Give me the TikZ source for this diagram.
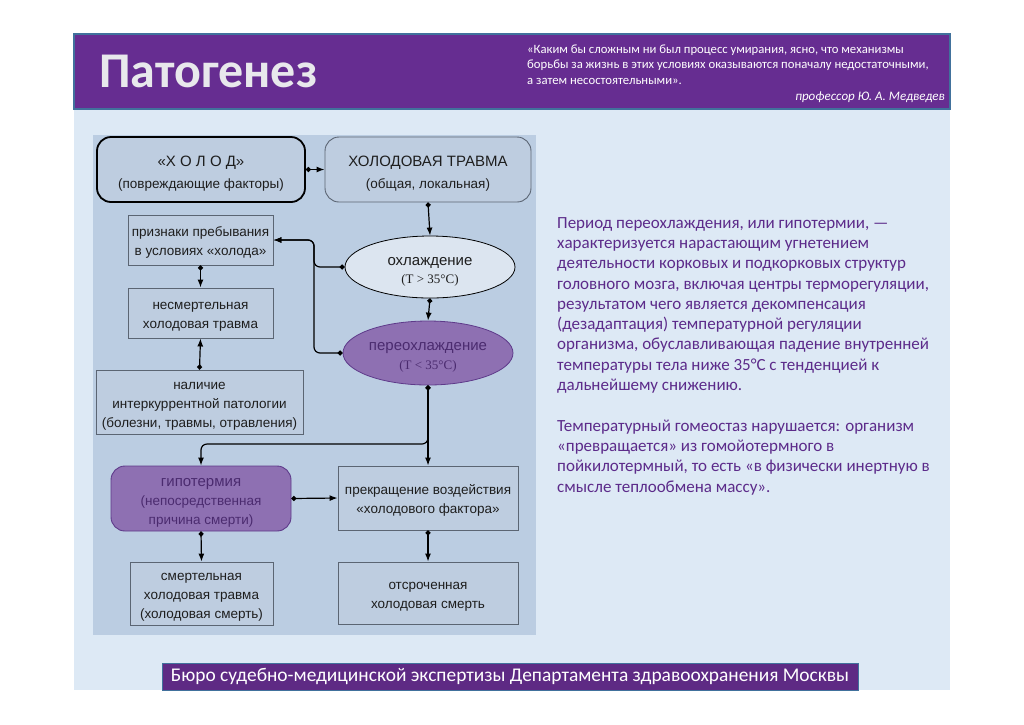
\documentclass[tikz,border=0pt]{standalone}
\usepackage{fontspec}
\setmainfont{Liberation Sans}
\newfontfamily\calfont{Carlito}
\newfontfamily\tmsfont{Liberation Serif}
\usetikzlibrary{arrows.meta,shapes.geometric,calc}
\definecolor{slidebg}{HTML}{DDE9F5}
\definecolor{hdr}{HTML}{662D91}
\definecolor{edgec}{HTML}{41719C}
\definecolor{chartbg}{HTML}{BBCDE2}
\definecolor{boxfill}{HTML}{BECDE0}
\definecolor{boxline}{HTML}{5B6573}
\definecolor{ellfill}{HTML}{DCE5F0}
\definecolor{purfill}{HTML}{8E70B2}
\definecolor{purline}{HTML}{5E3A8A}
\definecolor{purtxt}{HTML}{4B2B6F}
\definecolor{txt}{HTML}{1E1E1E}
\definecolor{rtxt}{HTML}{5C2B8A}
\definecolor{ftr}{HTML}{5E2A84}
\definecolor{titlec}{HTML}{E8E8EC}
\newcommand\tstr{\rule{0pt}{15pt}}
\begin{document}
\begin{tikzpicture}[x=1pt,y=-1pt,
  box/.style={draw=boxline, fill=boxfill, line width=0.9pt, align=center,
    font=\fontsize{13.5}{19}\selectfont, text=txt, inner sep=0pt},
  rbox/.style={box, rounded corners=14pt},
  ell/.style={ellipse, draw=black, line width=0.8pt, fill=ellfill, align=center,
    font=\fontsize{15}{19}\selectfont, text=txt, inner sep=0pt},
  conn/.style={draw=black, line width=1.2pt,
    arrows={Circle[length=5pt]-Latex[length=8pt,width=6pt]}},
  rconn/.style={conn, rounded corners=6pt}
]
\useasboundingbox (0,0) rectangle (1024,724);
\fill[white] (0,0) rectangle (1024,724);
\fill[slidebg] (74,34) rectangle (950,690);
\filldraw[fill=hdr, draw=edgec, line width=1.2pt] (74,34) rectangle (950,109);
\fill[chartbg] (93,135) rectangle (536,635);

% header texts
\node[anchor=west, inner sep=0pt, font=\calfont\bfseries\fontsize{50}{50}\selectfont, text=titlec] (title) at (99,71) {Патогенез};
\node[anchor=north west, align=left, inner sep=0pt, font=\calfont\fontsize{12.7}{15.5}\selectfont, text=white] (quote) at (527,44.5)
 {«Каким бы сложным ни был процесс умирания, ясно, что механизмы\\
  борьбы за жизнь в этих условиях оказываются поначалу недостаточными,\\
  а затем несостоятельными».};
\node[anchor=east, inner sep=0pt, font=\calfont\itshape\fontsize{13}{14}\selectfont, text=white] (sig) at (945,97) {профессор Ю. А. Медведев};

% flowchart nodes
\node[rbox, draw=black, line width=1.8pt, minimum width=208pt, minimum height=65pt] (holod) at (201,169.5)
 {\rule{0pt}{18pt}{\fontsize{15}{19}\selectfont «Х О Л О Д»}\\[3pt](повреждающие факторы)};
\node[rbox, minimum width=206pt, minimum height=65pt] (trauma) at (428,169.5)
 {\rule{0pt}{18pt}{\fontsize{15}{19}\selectfont ХОЛОДОВАЯ ТРАВМА}\\[3pt](общая, локальная)};
\node[box, minimum width=145pt, minimum height=50pt] (priznaki) at (200.5,240)
 {\tstr признаки пребывания\\в условиях «холода»};
\node[ell, minimum width=170pt, minimum height=62pt] (ohl) at (430,267)
 {\rule{0pt}{18pt}охлаждение\\[-1pt]{\tmsfont\fontsize{13}{15}\selectfont (T > 35°C)}};
\node[box, minimum width=145pt, minimum height=50pt] (nesm) at (200.5,313)
 {\tstr несмертельная\\холодовая травма};
\node[box, minimum width=207pt, minimum height=64pt] (nalichie) at (199.5,402)
 {\tstr наличие\\интеркуррентной патологии\\(болезни, травмы, отравления)};
\node[ell, draw=purline, fill=purfill, text=purtxt, minimum width=170pt, minimum height=64pt] (pereohl) at (428,353)
 {\rule{0pt}{17pt}переохлаждение\\[0pt]{\tmsfont\fontsize{13}{15}\selectfont (T < 35°C)}};
\node[rbox, draw=purline, fill=purfill, text=purtxt, minimum width=180pt, minimum height=65pt] (gipo) at (201,498.5)
 {\rule{0pt}{17pt}{\fontsize{15}{19}\selectfont гипотермия}\\(непосредственная\\причина смерти)};
\node[box, minimum width=180pt, minimum height=64pt] (prekr) at (428,498)
 {\tstr прекращение воздействия\\«холодового фактора»};
\node[box, minimum width=143pt, minimum height=63pt] (smert) at (201.5,593.5)
 {\tstr смертельная\\холодовая травма\\(холодовая смерть)};
\node[box, minimum width=180pt, minimum height=62pt] (otsr) at (428,593)
 {\tstr отсроченная\\холодовая смерть};

\coordinate (vx) at (314,0);
\coordinate (br) at (201,444);

% connectors
\draw[conn] (holod.east) -- (trauma.west);
\draw[conn] (trauma.south) -- (ohl.north);
\draw[conn] (ohl.south) -- (pereohl.north);
\draw[rconn] (ohl.west) -| (vx |- priznaki.east) -- (priznaki.east);
\draw[rconn] (pereohl.west) -| (vx |- priznaki.east) -- (priznaki.east);
\draw[conn] (priznaki.south) -- (nesm.north);
\draw[conn] (nalichie.north) -- (nesm.south);
\draw[conn] (pereohl.south) -- (prekr.north);
\draw[rconn] (pereohl.south) |- (br) -- (gipo.north);
\draw[conn] (gipo.east) -- (prekr.west);
\draw[conn] (gipo.south) -- (smert.north);
\draw[conn] (prekr.south) -- (otsr.north);

% right text
\node[anchor=north west, align=left, inner sep=0pt, font=\calfont\fontsize{17}{20.3}\selectfont, text=rtxt] (rtext) at (557,217)
 {Период переохлаждения, или гипотермии, —\\
  характеризуется нарастающим угнетением\\
  деятельности корковых и подкорковых структур\\
  головного мозга, включая центры терморегуляции,\\
  результатом чего является декомпенсация\\
  (дезадаптация) температурной регуляции\\
  организма, обуславливающая падение внутренней\\
  температуры тела ниже 35°C с тенденцией к\\
  дальнейшему снижению.\\[20.3pt]
  Температурный гомеостаз нарушается: организм\\
  «превращается» из гомойотермного в\\
  пойкилотермный, то есть «в физически инертную в\\
  смысле теплообмена массу».};

% footer
\node[fill=ftr, draw=edgec, line width=0.8pt, minimum width=696pt, minimum height=27pt, inner sep=0pt,
  font=\calfont\fontsize{19.4}{19.4}\selectfont, text=white] (footer) at (510,676.5)
 {Бюро судебно-медицинской экспертизы Департамента здравоохранения Москвы};
\end{tikzpicture}
\end{document}
